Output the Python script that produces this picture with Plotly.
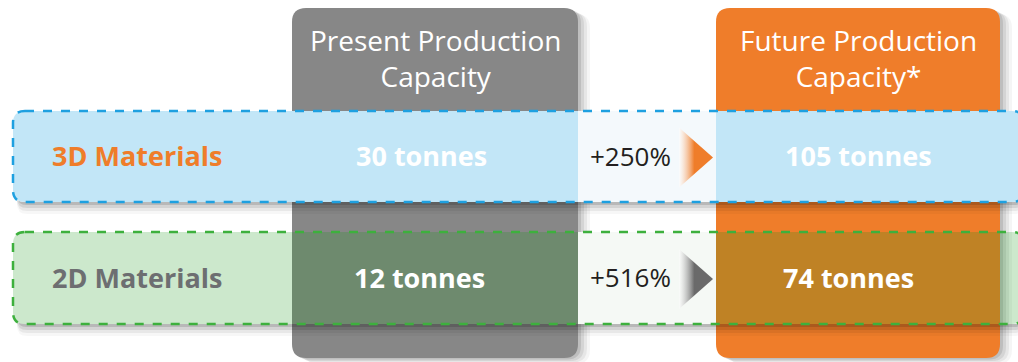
import plotly.graph_objects as go

# ---- data ----
categories = ["3D Materials", "2D Materials"]
present_tonnes = [30, 12]
future_tonnes = [105, 74]
growth_labels = ["+250%", "+516%"]
column_headers = ["Present Production<br>Capacity", "Future Production<br>Capacity*"]

# ---- styling / layout ----
W, H = 1018, 362
FONT = "Open Sans"
col_x = [(292, 578), (716, 1000)]
col_colors = ["#878787", "#EF7D2A"]
row_y = [(111, 202), (232, 324)]
band_fill = ["#C2E6F7", "rgba(23,150,23,0.22)"]
gap_fill = ["#F4F9FC", "#F5F9F5"]
band_line = ["#1EA0E0", "#3DB03D"]
cat_colors = ["#EF7D2A", "#6D6E71"]
tri_colors = ["#EF7D2A", "#6A6A6A"]


def rr(x0, y0, x1, y1, r):
    return (f"M {x0+r},{y0} L {x1-r},{y0} Q {x1},{y0} {x1},{y0+r} "
            f"L {x1},{y1-r} Q {x1},{y1} {x1-r},{y1} L {x0+r},{y1} "
            f"Q {x0},{y1} {x0},{y1-r} L {x0},{y0+r} Q {x0},{y0} {x0+r},{y0} Z")


shapes = []
# column shadows
for (x0, x1) in col_x:
    for k, a in enumerate([0.10, 0.08, 0.06, 0.04]):
        d = 3 + k * 3
        shapes.append(dict(type="path", path=rr(x0 + d, 8 + d / 2, x1 + d, 358 + d / 2, 14),
                           fillcolor=f"rgba(0,0,0,{a})", line_width=0, layer="below"))
# columns
for (x0, x1), c in zip(col_x, col_colors):
    shapes.append(dict(type="path", path=rr(x0, 8, x1, 358, 14), fillcolor=c,
                       line_width=0, layer="below"))

# bands
for i, (y0, y1) in enumerate(row_y):
    bx0, bx1 = 13, 1024
    # soft shadow strip just below the band
    for k, a in enumerate([0.13, 0.09, 0.06, 0.03]):
        d = 3 + k * 3
        shapes.append(dict(type="path", path=rr(bx0 + 4, y1 - 12, bx1, y1 + d, 10),
                           fillcolor=f"rgba(0,0,0,{a})", line_width=0, layer="below"))
    if i == 0:
        shapes.append(dict(type="path", path=rr(bx0, y0, bx1, y1, 12),
                           fillcolor="white", line_width=0, layer="below"))
    else:
        # restore white where the shadow strip fell outside the columns
        shapes.append(dict(type="path", path=rr(bx0, y0, col_x[0][0] + 30, y1, 12),
                           fillcolor="white", line_width=0, layer="below"))
        shapes.append(dict(type="rect", x0=col_x[0][1], x1=col_x[1][0], y0=y0, y1=y1,
                           fillcolor="white", line_width=0, layer="below"))
        shapes.append(dict(type="rect", x0=col_x[1][1], x1=bx1, y0=y0, y1=y1,
                           fillcolor="white", line_width=0, layer="below"))
        # orange column shadow visible through the band on the right
        for k, a in enumerate([0.10, 0.08, 0.06, 0.04]):
            d = 3 + k * 3
            shapes.append(dict(type="rect", x0=col_x[1][1], x1=col_x[1][1] + d, y0=y0, y1=y1,
                               fillcolor=f"rgba(0,0,0,{a})", line_width=0, layer="below"))
        # columns again inside the band area (hide the shadow strip)
        for (cx0, cx1), c in zip(col_x, col_colors):
            shapes.append(dict(type="rect", x0=cx0, x1=cx1, y0=y0, y1=y1,
                               fillcolor=c, line_width=0, layer="below"))
    shapes.append(dict(type="path", path=rr(bx0, y0, bx1, y1, 12),
                       fillcolor=band_fill[i], line_width=0, layer="below"))
    # gap between columns
    shapes.append(dict(type="rect", x0=col_x[0][1], x1=col_x[1][0], y0=y0, y1=y1,
                       fillcolor=gap_fill[i], line_width=0, layer="below"))
    # dashed outline
    shapes.append(dict(type="path", path=rr(bx0, y0, bx1, y1, 12),
                       fillcolor="rgba(0,0,0,0)",
                       line=dict(color=band_line[i], width=2.5, dash="dash"),
                       layer="below"))

fig = go.Figure()

# arrow triangles
for i, (y0, y1) in enumerate(row_y):
    yc = (y0 + y1) / 2 + 1
    fig.add_trace(go.Scatter(
        x=[679, 713, 679, 679], y=[yc - 30, yc, yc + 30, yc - 30],
        mode="lines", fill="toself", line=dict(width=0),
        fillgradient=dict(type="horizontal",
                          colorscale=[[0, "rgba(255,255,255,0.5)"], [0.45, tri_colors[i]],
                                      [1, tri_colors[i]]]),
        hoverinfo="skip", showlegend=False))

annotations = []
# column headers
for (x0, x1), txt in zip(col_x, column_headers):
    annotations.append(dict(x=(x0 + x1) / 2, y=58, text=txt, showarrow=False,
                            xanchor="center", yanchor="middle",
                            font=dict(family=FONT, size=28, color="white")))

present_cx = [421, 419]
future_cx = [858, 848]
for i, (y0, y1) in enumerate(row_y):
    yc = (y0 + y1) / 2 - 1
    annotations.append(dict(x=50, y=yc, text=f"<b>{categories[i]}</b>", showarrow=False,
                            xanchor="left", yanchor="middle",
                            font=dict(family=FONT, size=27, color=cat_colors[i])))
    annotations.append(dict(x=present_cx[i], y=yc,
                            text=f"<b>{present_tonnes[i]} tonnes</b>", showarrow=False,
                            xanchor="center", yanchor="middle",
                            font=dict(family=FONT, size=27, color="white")))
    annotations.append(dict(x=future_cx[i], y=yc,
                            text=f"<b>{future_tonnes[i]} tonnes</b>", showarrow=False,
                            xanchor="center", yanchor="middle",
                            font=dict(family=FONT, size=27, color="white")))
    annotations.append(dict(x=630, y=yc, text=growth_labels[i], showarrow=False,
                            xanchor="center", yanchor="middle",
                            font=dict(family=FONT, size=26, color="#231F20")))

fig.update_layout(
    width=W, height=H, margin=dict(l=0, r=0, t=0, b=0),
    paper_bgcolor="white", plot_bgcolor="white",
    xaxis=dict(range=[0, W], visible=False, fixedrange=True),
    yaxis=dict(range=[H, 0], visible=False, fixedrange=True),
    shapes=shapes, annotations=annotations, showlegend=False,
)

fig.write_html("out.html")
